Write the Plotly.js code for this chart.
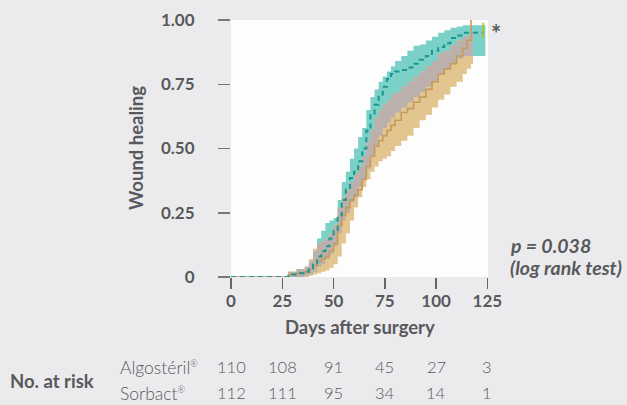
<!DOCTYPE html>
<html>
<head>
<meta charset="utf-8">
<script src="https://cdn.plot.ly/plotly-3.0.1.min.js"></script>
<style>
html,body{margin:0;padding:0;background:#ebebed;}
#chart{width:627px;height:405px;}
</style>
</head>
<body>
<div id="chart"></div>
<script>
// ---- Data ----
const days      = [0, 24, 28, 32, 36, 38, 40, 42, 44, 46, 48, 50, 52, 54, 56, 58, 60, 62, 64, 66, 68, 70, 72, 74, 76, 78, 80, 83, 86, 89, 92, 95, 98, 101, 104, 107, 110, 113, 115, 117, 120, 123];

// Algostéril (teal, dashed)
const algoSurv  = [0, 0, 0.01, 0.015, 0.02, 0.03, 0.05, 0.08, 0.10, 0.12, 0.15, 0.18, 0.24, 0.30, 0.34, 0.385, 0.41, 0.45, 0.50, 0.57, 0.63, 0.67, 0.71, 0.74, 0.77, 0.79, 0.80, 0.805, 0.815, 0.83, 0.845, 0.86, 0.88, 0.895, 0.91, 0.93, 0.94, 0.95, 0.95, 0.95, 0.95, 0.95];
const algoUp    = [0, 0, 0.02, 0.03, 0.04, 0.06, 0.10, 0.15, 0.18, 0.21, 0.22, 0.23, 0.30, 0.37, 0.41, 0.46, 0.50, 0.545, 0.58, 0.65, 0.70, 0.73, 0.76, 0.78, 0.80, 0.82, 0.84, 0.86, 0.88, 0.90, 0.905, 0.92, 0.935, 0.95, 0.96, 0.97, 0.975, 0.98, 0.98, 0.98, 0.98, 0.98];
const algoLow   = [0, 0, 0, 0, 0.005, 0.01, 0.02, 0.04, 0.05, 0.07, 0.09, 0.12, 0.17, 0.22, 0.25, 0.29, 0.31, 0.35, 0.38, 0.42, 0.47, 0.51, 0.55, 0.58, 0.60, 0.62, 0.64, 0.66, 0.68, 0.70, 0.72, 0.74, 0.76, 0.79, 0.81, 0.83, 0.85, 0.86, 0.86, 0.86, 0.86, 0.86];
const algoEnd   = 124;
const algoCensorDay  = [123];
const algoCensorSurv = [0.96];

// Sorbact (tan, solid)
const sorbSurv  = [0, 0, 0.01, 0.015, 0.02, 0.03, 0.045, 0.06, 0.07, 0.08, 0.10, 0.13, 0.20, 0.24, 0.27, 0.30, 0.32, 0.34, 0.38, 0.43, 0.47, 0.51, 0.53, 0.55, 0.57, 0.59, 0.61, 0.64, 0.655, 0.68, 0.70, 0.73, 0.76, 0.79, 0.81, 0.83, 0.86, 0.89, 0.92, 1.0, null, null];
const sorbUp    = [0, 0, 0.02, 0.03, 0.04, 0.07, 0.11, 0.13, 0.14, 0.15, 0.17, 0.20, 0.27, 0.31, 0.34, 0.37, 0.40, 0.43, 0.47, 0.53, 0.57, 0.62, 0.65, 0.67, 0.69, 0.71, 0.72, 0.74, 0.76, 0.78, 0.80, 0.82, 0.84, 0.87, 0.88, 0.90, 0.92, 0.935, 0.94, 0.95, null, null];
const sorbLow   = [0, 0, 0, 0, 0, 0.005, 0.01, 0.015, 0.02, 0.025, 0.035, 0.05, 0.08, 0.13, 0.17, 0.22, 0.27, 0.31, 0.35, 0.38, 0.41, 0.43, 0.45, 0.46, 0.47, 0.49, 0.51, 0.53, 0.55, 0.58, 0.61, 0.63, 0.66, 0.69, 0.71, 0.74, 0.76, 0.79, 0.81, 0.83, null, null];
const sorbEnd   = 118;

// Axis ticks
const xTicks     = [0, 25, 50, 75, 100, 125];
const yTicks     = [0, 0.25, 0.5, 0.75, 1.0];
const yTickText  = ['0', '0.25', '0.50', '0.75', '1.00'];

// Number at risk
const riskDays   = [0, 25, 50, 75, 100, 125];
const riskAlgo   = [110, 108, 91, 45, 27, 3];
const riskSorb   = [112, 111, 95, 34, 14, 1];
const riskLabels = ['Algostéril', 'Sorbact'];

// ---- Styling ----
const GREY = '#58595b';
const FONT = 'Lato, "Open Sans", sans-serif';
const TEAL_BAND = '#7bd1c7';
const TAN_BAND  = '#e3c68f';
const OVER_BAND = '#bcb0ad';
const TEAL_LINE = '#1d978d';
const TAN_LINE  = '#c49b5c';

// helpers: take defined points and append the end-of-follow-up point
function series(x, y, end) {
  const xs = [], ys = [];
  for (let i = 0; i < x.length; i++) {
    if (y[i] !== null && y[i] !== undefined) { xs.push(x[i]); ys.push(y[i]); }
  }
  if (end !== undefined) { xs.push(end); ys.push(ys[ys.length - 1]); }
  return {x: xs, y: ys};
}
function band(lowArr, upArr, end, color) {
  const lo = series(days, lowArr, end), hi = series(days, upArr, end);
  return [
    {x: lo.x, y: lo.y, type: 'scatter', mode: 'lines', line: {width: 0, shape: 'hv'},
     hoverinfo: 'skip', showlegend: false},
    {x: hi.x, y: hi.y, type: 'scatter', mode: 'lines', line: {width: 0, shape: 'hv'},
     fill: 'tonexty', fillcolor: color, hoverinfo: 'skip', showlegend: false}
  ];
}

// overlap of the two confidence bands
const overLow = days.map((d, i) => (sorbLow[i] === null ? null : Math.max(algoLow[i], sorbLow[i])));
const overUp  = days.map((d, i) => (sorbUp[i] === null ? null :
                 Math.max(Math.max(algoLow[i], sorbLow[i]), Math.min(algoUp[i], sorbUp[i]))));
const overEnd = Math.min(algoEnd, sorbEnd);

const algoLine = series(days, algoSurv);
const sorbLine = series(days, sorbSurv);

const traces = []
  .concat(band(algoLow, algoUp, algoEnd, TEAL_BAND))
  .concat(band(sorbLow, sorbUp, sorbEnd, TAN_BAND))
  .concat(band(overLow, overUp, overEnd, OVER_BAND))
  .concat([
    {x: sorbLine.x, y: sorbLine.y, type: 'scatter', mode: 'lines',
     line: {color: TAN_LINE, width: 1.6, shape: 'hv'}, name: 'Sorbact', showlegend: false},
    {x: algoLine.x, y: algoLine.y, type: 'scatter', mode: 'lines',
     line: {color: TEAL_LINE, width: 2, shape: 'hv', dash: '5px,4px'}, name: 'Algostéril', showlegend: false},
    {x: algoCensorDay, y: algoCensorSurv, type: 'scatter', mode: 'markers',
     marker: {symbol: 'line-ns-open', size: 11, line: {color: TEAL_LINE, width: 1.6}},
     showlegend: false, hoverinfo: 'skip'}
  ]);

// ---- annotations ----
const PL = 231, PR = 488, PT = 20, PB = 277; // plot box in px
const px2x = p => (p - PL) / (PR - PL);
const py2y = p => (PB - p) / (PB - PT);

const ann = [];
ann.push({xref: 'paper', yref: 'paper', x: px2x(359.5), y: py2y(327), text: '<b>Days after surgery</b>',
  showarrow: false, font: {family: FONT, size: 18.5, color: GREY}, xanchor: 'center', yanchor: 'middle'});
ann.push({xref: 'paper', yref: 'paper', x: px2x(136), y: py2y(148), text: '<b>Wound healing</b>', textangle: -90,
  showarrow: false, font: {family: FONT, size: 18.5, color: GREY}, xanchor: 'center', yanchor: 'middle'});
ann.push({xref: 'paper', yref: 'paper', x: px2x(489), y: py2y(33), text: '<b>*</b>',
  showarrow: false, font: {family: FONT, size: 24, color: GREY}, xanchor: 'left', yanchor: 'middle'});
ann.push({xref: 'paper', yref: 'paper', x: px2x(508), y: py2y(245), text: '<b><i>p = 0.038</i></b>',
  showarrow: false, font: {family: FONT, size: 19.5, color: GREY}, xanchor: 'left', yanchor: 'middle'});
ann.push({xref: 'paper', yref: 'paper', x: px2x(508), y: py2y(267), text: '<b><i>(log rank test)</i></b>',
  showarrow: false, font: {family: FONT, size: 19.5, color: GREY}, xanchor: 'left', yanchor: 'middle'});
ann.push({xref: 'paper', yref: 'paper', x: px2x(8), y: py2y(381), text: '<b>No. at risk</b>',
  showarrow: false, font: {family: FONT, size: 18.5, color: GREY}, xanchor: 'left', yanchor: 'middle'});
const rowY = [367, 393];
[riskAlgo, riskSorb].forEach((row, r) => {
  ann.push({xref: 'paper', yref: 'paper', x: px2x(118), y: py2y(rowY[r]),
    text: riskLabels[r] + '<sup><span style="font-size:9px">®</span></sup>',
    showarrow: false, font: {family: FONT, size: 17.5, color: GREY, weight: 300}, xanchor: 'left', yanchor: 'middle'});
  row.forEach((v, i) => {
    ann.push({xref: 'x', yref: 'paper', x: riskDays[i], y: py2y(rowY[r]), text: String(v),
      showarrow: false, font: {family: FONT, size: 16.5, color: GREY, weight: 300}, xanchor: 'center', yanchor: 'middle'});
  });
});

const layout = {
  width: 627, height: 405,
  margin: {l: PL, r: 627 - PR, t: PT, b: 405 - PB, pad: 0},
  paper_bgcolor: '#ebebed',
  plot_bgcolor: '#fdfdfd',
  showlegend: false,
  xaxis: {
    range: [0, 125.3], tickvals: xTicks, ticktext: xTicks.map(String),
    showgrid: false, zeroline: false, showline: false,
    ticks: 'outside', ticklen: 11, tickwidth: 1.5, tickcolor: '#666',
    ticklabelstandoff: -2,
    tickfont: {family: FONT, size: 17, color: GREY, weight: 'bold'}
  },
  yaxis: {
    range: [0, 1.0], tickvals: yTicks, ticktext: yTickText,
    showgrid: false, zeroline: false, showline: false,
    ticks: 'outside', ticklen: 12, tickwidth: 1.5, tickcolor: '#777',
    ticklabelstandoff: 20,
    tickfont: {family: FONT, size: 17, color: GREY, weight: 'bold'}
  },
  annotations: ann
};

Plotly.newPlot('chart', traces, layout, {staticPlot: true, displayModeBar: false});
</script>
</body>
</html>
